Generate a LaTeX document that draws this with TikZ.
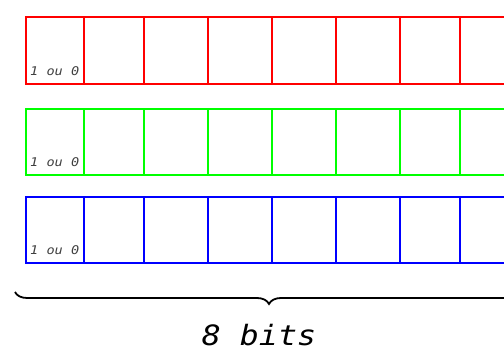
\documentclass[tikz,border=0pt]{standalone}
\usepackage{fontspec}
\newfontfamily\monofont{DejaVu Sans Mono}
\newfontfamily\widemono[FakeStretch=1.13]{DejaVu Sans Mono}
\usetikzlibrary{decorations.pathreplacing}
\tikzset{
  cellline/.style={line width=2pt},
  bitlabel/.style={anchor=base west, inner sep=0pt, font=\widemono\itshape\fontsize{12}{13}\selectfont, text=black!75},
  bracestyle/.style={line width=1.8pt, decorate, decoration={brace, mirror, amplitude=12pt}},
  biglabel/.style={anchor=base, inner sep=0pt, text depth=0pt, font=\widemono\itshape\fontsize{28}{30}\selectfont}
}
\begin{document}
\begin{tikzpicture}[x=1pt,y=-1pt]
\useasboundingbox (0,0) rectangle (504,352);
\clip (0,0) rectangle (504,352);
\foreach \col/\top/\bot/\nm in {red/17/84/r, green/109/175/g, blue/197/263/b}{
  \draw[cellline, draw=\col] (26,\top) rectangle (540,\bot);
  \foreach \xx in {84,144,208,272,336,400,460,524}{
    \draw[cellline, draw=\col] (\xx,\top) -- (\xx,\bot);
  }
  \node[bitlabel] (lab\nm) at (30,\bot-8) {1 ou 0};
}
\coordinate (bl) at (15,292);
\coordinate (br) at (523,292);
\draw[bracestyle] (bl) -- (br);
\node[biglabel] (bits) at (259,346) {8 bits};
\end{tikzpicture}
\end{document}
